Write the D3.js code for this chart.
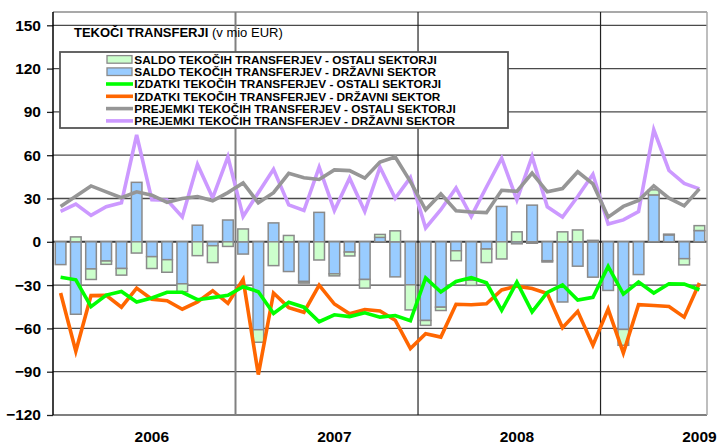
<!DOCTYPE html>
<html>
<head>
<meta charset="utf-8">
<script src="https://cdn.jsdelivr.net/npm/d3@7"></script>
<style>
  body { margin: 0; background: #fff; }
  svg { display: block; font-family: 'Liberation Sans', Arial, sans-serif; }
</style>
</head>
<body>
<div id="chart"></div>
<script>
// categories: months Jan 2006 - Jul 2009
const years = ['2006', '2007', '2008', '2009'];
const monthsPerYear = [12, 12, 12, 7];
const months = [];
years.forEach((yr, i) => {
  for (let m = 1; m <= monthsPerYear[i]; m++) months.push(yr + '-' + String(m).padStart(2, '0'));
});

// saldo (bars), mio EUR
const saldoOstali = [
  0, 3.4, -7.3, -2.3, -4.6, -7.8, -8.2, -8.7, -5.5, -9.6, -11.7, -3.2,
  8.9, -8.7, -16.5, 4.4, -1.1, -12.6, -1.4, -2.7, -6, 2, 7.6, -17.4,
  -3.4, -2.3, -6.9, -3.6, -9.4, -11.9, 6.9, -1, -0.9, 6.9, 8.2, 1,
  0, -11, 0, 3.5, 0.5, -4.3, 3.4
];
const saldoDrzavni = [
  -15.8, -50.2, -18.8, -13.3, -18.5, 41.2, -10.3, -12.4, -29.1, 11.5, -2.7, 15.1,
  -8.5, -60.9, 13.1, -20.6, -27.5, 20.4, -22.2, -7.1, -26.1, 3.1, -24.3, -29.8,
  -54.5, -45.3, -6.2, -26.6, -5, 24.5, -1.4, 25.4, -13.1, -41.7, -16.9, -24.5,
  -33.7, -60.7, -22.7, 32.5, 4.8, -11.7, 7.8
];

// izdatki / prejemki (lines)
const izdatkiOstali = [
  -24.5, -26.3, -44.9, -36.9, -34.4, -41.7, -38.9, -35, -35, -40.1, -38.7, -37.1,
  -31.1, -34.6, -49.7, -41.9, -45.3, -55.4, -50.6, -51.8, -49.2, -52.2, -51.1, -54.7,
  -25, -34.8, -27.5, -24.9, -28.4, -47.5, -28, -48.5, -35, -29.8, -40.3, -38.5,
  -17.1, -36.2, -27.9, -35.5, -29.1, -29.3, -33.2
];
const izdatkiDrzavni = [
  -35.5, -75.8, -37.3, -37.1, -45.3, -32.1, -39.8, -40.8, -46.7, -41.7, -33.9, -42.6,
  -26.1, -92, -35.5, -45.6, -48.8, -30, -43.1, -49.9, -46.9, -47.9, -54.3, -74,
  -63.7, -66, -43.3, -43.6, -42.9, -33.4, -30.7, -32.3, -35.8, -59.5, -48.2, -71.6,
  -46.6, -77.1, -43.6, -44.1, -44.8, -52.2, -28.6
];
const prejemkiOstali = [
  24.5, 31.6, 38.7, 34.6, 30.5, 34.6, 32.3, 27.3, 30, 31.4, 28.4, 34.1,
  40.8, 27, 34, 47.4, 44.4, 43.2, 49.8, 49.3, 44.1, 55.3, 58.8, 41.7,
  22.2, 33.2, 21.5, 20.6, 20.2, 35.7, 35, 47.6, 34.6, 36.9, 48.5, 40.1,
  17.1, 24.5, 28.6, 38.8, 30.2, 24.9, 36.7
];
const prejemkiDrzavni = [
  21.1, 26.1, 18.3, 24.3, 27, 74, 29.1, 28.9, 17.2, 53.6, 30.5, 58.9,
  17.5, 34, 50.3, 25.6, 21.7, 51.7, 21.7, 44.1, 21, 51.7, 30.2, 44.5,
  9.6, 22.2, 37.3, 17.6, 38, 58, 29.1, 59, 24.2, 17.2, 31.4, 46.8,
  12.3, 15.2, 21, 77.6, 49.4, 40.4, 36.7
];

const yTicks = [-120, -90, -60, -30, 0, 30, 60, 90, 120, 150];

const legendNames = [
  'SALDO TEKOČIH TRANSFERJEV - OSTALI SEKTORJI',
  'SALDO TEKOČIH TRANSFERJEV - DRŽAVNI SEKTOR',
  'IZDATKI TEKOČIH TRANSFERJEV - OSTALI SEKTORJI',
  'IZDATKI TEKOČIH TRANSFERJEV - DRŽAVNI SEKTOR',
  'PREJEMKI TEKOČIH TRANSFERJEV - OSTALI SEKTORJI',
  'PREJEMKI TEKOČIH TRANSFERJEV - DRŽAVNI SEKTOR'
];

const colGreenBar = '#ccffcc';
const colBlueBar = '#99ccff';
const colGreen = '#00ff00';
const colOrange = '#ff6600';
const colGray = '#969696';
const colPurple = '#cc99ff';

const width = 717;
const height = 443;
const plotLeft = 53, plotRight = 707, plotTop = 12, plotBottom = 415;

const svg = d3.select('#chart')
  .append('svg')
  .attr('width', width)
  .attr('height', height);

svg.append('rect').attr('width', width).attr('height', height).attr('fill', '#fff');

const xScale = d3.scaleBand()
  .domain(months)
  .range([plotLeft, plotRight])
  .paddingInner(0.3)
  .paddingOuter(0.15);

const yScale = d3.scaleLinear()
  .domain([-120, 150])
  .range([plotBottom, 25.3]);

const step = xScale.step();
const cx = i => xScale(months[i]) + xScale.bandwidth() / 2;

// horizontal gridlines
svg.append('g')
  .selectAll('line')
  .data(yTicks.filter(t => t !== -120))
  .enter()
  .append('line')
  .attr('x1', plotLeft)
  .attr('x2', plotRight)
  .attr('y1', d => yScale(d))
  .attr('y2', d => yScale(d))
  .attr('stroke', d => d === 0 ? '#3a3a3a' : '#4a4a4a')
  .attr('stroke-width', d => d === 0 ? 2 : 1.3);

// plot border
svg.append('line').attr('x1', plotLeft).attr('x2', plotRight).attr('y1', plotTop).attr('y2', plotTop)
  .attr('stroke', '#555').attr('stroke-width', 1.2);
svg.append('line').attr('x1', plotLeft).attr('x2', plotRight).attr('y1', plotBottom).attr('y2', plotBottom)
  .attr('stroke', '#555').attr('stroke-width', 1.3);
svg.append('line').attr('x1', plotRight).attr('x2', plotRight).attr('y1', plotTop).attr('y2', plotBottom)
  .attr('stroke', '#a8a8a8').attr('stroke-width', 1.5);

// year dividers
let startIdx = 0;
const dividers = [];
monthsPerYear.slice(0, -1).forEach(n => {
  startIdx += n;
  dividers.push(xScale(months[startIdx]) - step * 0.15);
});
svg.append('g')
  .selectAll('line')
  .data(dividers)
  .enter()
  .append('line')
  .attr('x1', d => d)
  .attr('x2', d => d)
  .attr('y1', plotTop)
  .attr('y2', plotBottom)
  .attr('stroke', (d, i) => i === 0 ? '#808080' : '#222')
  .attr('stroke-width', (d, i) => i === 0 ? 2 : 1.2);

// stacked bars (diverging like Excel)
const table = months.map((m, i) => ({ month: m, drzavni: saldoDrzavni[i], ostali: saldoOstali[i] }));
const stack = d3.stack()
  .keys(['drzavni', 'ostali'])
  .offset(d3.stackOffsetDiverging);
const layers = stack(table);
const barColors = { drzavni: colBlueBar, ostali: colGreenBar };

svg.append('g')
  .selectAll('g')
  .data(layers)
  .enter()
  .append('g')
  .attr('fill', d => barColors[d.key])
  .selectAll('rect')
  .data(d => d)
  .enter()
  .append('rect')
  .attr('x', d => xScale(d.data.month))
  .attr('width', xScale.bandwidth())
  .attr('y', d => yScale(Math.max(d[0], d[1])))
  .attr('height', d => Math.abs(yScale(d[0]) - yScale(d[1])))
  .attr('stroke', '#8a8a8a')
  .attr('stroke-width', 1.5);

// lines
const lineSeries = [
  { values: prejemkiDrzavni, color: colPurple },
  { values: prejemkiOstali, color: colGray },
  { values: izdatkiDrzavni, color: colOrange },
  { values: izdatkiOstali, color: colGreen }
];
const line = d3.line()
  .x((d, i) => cx(i))
  .y(d => yScale(d));

svg.append('g')
  .selectAll('path')
  .data(lineSeries)
  .enter()
  .append('path')
  .attr('d', d => line(d.values))
  .attr('fill', 'none')
  .attr('stroke', d => d.color)
  .attr('stroke-width', 3.6)
  .attr('stroke-linejoin', 'miter')
  .attr('stroke-miterlimit', 4);

// y axis
const yAxis = d3.axisLeft(yScale)
  .tickValues(yTicks)
  .tickSize(6)
  .tickSizeOuter(0)
  .tickPadding(6);

const yAxisG = svg.append('g')
  .attr('transform', `translate(${plotLeft}, 0)`)
  .call(yAxis);
yAxisG.select('.domain').remove();
yAxisG.selectAll('.tick line').attr('stroke', '#222').attr('stroke-width', 1.3);
yAxisG.selectAll('.tick text')
  .attr('font-size', 15.5)
  .attr('font-weight', 'bold')
  .attr('fill', '#000')
  .attr('font-family', "'Liberation Sans', Arial, sans-serif");

svg.append('line').attr('x1', plotLeft).attr('x2', plotLeft).attr('y1', plotTop).attr('y2', plotBottom)
  .attr('stroke', '#000').attr('stroke-width', 1.5);

// year labels (placed at July of each year)
let yearStart = 0;
years.forEach((yr, i) => {
  svg.append('text')
    .attr('x', cx(yearStart + 6))
    .attr('y', 441.5)
    .attr('text-anchor', 'middle')
    .attr('font-size', 15.5)
    .attr('font-weight', 'bold')
    .text(yr);
  yearStart += monthsPerYear[i];
});

// title
const title = svg.append('text')
  .attr('x', 74)
  .attr('y', 36.5)
  .attr('font-size', 13);
title.append('tspan').attr('font-weight', 'bold').text('TEKOČI TRANSFERJI');
title.append('tspan').text(' (v mio EUR)');

// legend
const legend = svg.append('g');
legend.append('rect')
  .attr('x', 60)
  .attr('y', 52)
  .attr('width', 448)
  .attr('height', 76)
  .attr('fill', '#fff')
  .attr('stroke', '#555')
  .attr('stroke-width', 1.8);

const legendItems = legendNames.map((name, i) => ({
  name: name,
  type: i < 2 ? 'rect' : 'line',
  color: [colGreenBar, colBlueBar, colGreen, colOrange, colGray, colPurple][i]
}));

const rowY = i => 59.4 + i * 12.3;
legendItems.forEach((d, i) => {
  if (d.type === 'rect') {
    legend.append('rect')
      .attr('x', 107)
      .attr('y', rowY(i) - 3.8)
      .attr('width', 25)
      .attr('height', 7.6)
      .attr('fill', d.color)
      .attr('stroke', '#8a8a8a')
      .attr('stroke-width', 1.3);
  } else {
    legend.append('line')
      .attr('x1', 106)
      .attr('x2', 133)
      .attr('y1', rowY(i))
      .attr('y2', rowY(i))
      .attr('stroke', d.color)
      .attr('stroke-width', 3.6);
  }
  legend.append('text')
    .attr('x', 134.3)
    .attr('y', rowY(i) + 4.3)
    .attr('font-size', 11.8)
    .attr('font-weight', 'bold')
    .text(d.name);
});
</script>
</body>
</html>
